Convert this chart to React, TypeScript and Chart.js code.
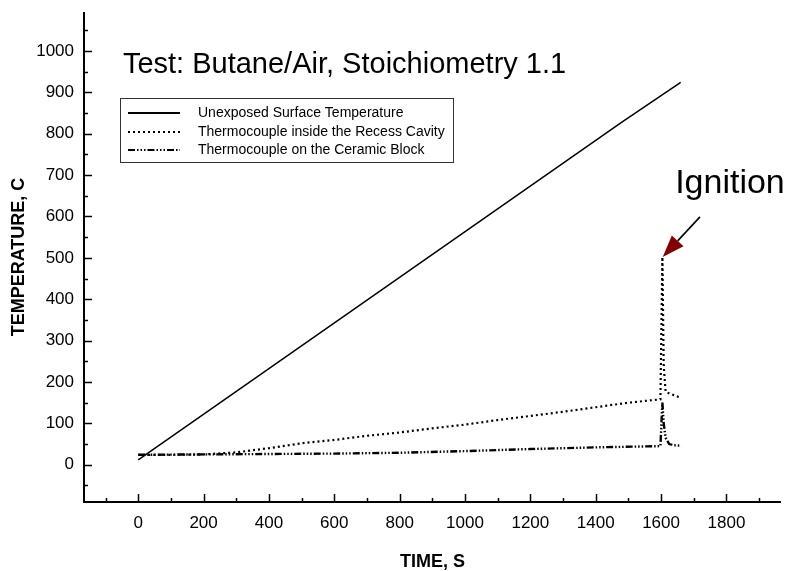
import React, { useEffect, useRef } from "react";
import { Chart, registerables } from "chart.js";

Chart.register(...registerables);

// ---- data ----
const surfaceTime = [0, 1480, 1660];
const surfaceTemp = [12, 828, 924];

const recessTime = [0, 100, 200, 300, 400, 500, 600, 700, 800, 900, 1000, 1100, 1200, 1300, 1400, 1500, 1598, 1604, 1608, 1614, 1640, 1662];
const recessTemp = [24, 24, 25, 30, 40, 52, 60, 70, 78, 88, 97, 108, 118, 128, 139, 150, 158, 502, 240, 176, 168, 161];

const ceramicTime = [0, 200, 400, 600, 800, 1000, 1200, 1400, 1598, 1604, 1608, 1614, 1625, 1640, 1662];
const ceramicTemp = [24, 25, 26, 27, 29, 33, 38, 42, 45, 150, 100, 65, 50, 47, 46];

const seriesLabels = [
  "Unexposed Surface Temperature",
  "Thermocouple inside the Recess Cavity",
  "Thermocouple on the Ceramic Block",
];

const xMajorTicks = [0, 200, 400, 600, 800, 1000, 1200, 1400, 1600, 1800];
const xMinorTicks = [-100, 100, 300, 500, 700, 900, 1100, 1300, 1500, 1700, 1900];
const yMajorTicks = [0, 100, 200, 300, 400, 500, 600, 700, 800, 900, 1000];
const yMinorTicks = [-50, 50, 150, 250, 350, 450, 550, 650, 750, 850, 950, 1050];

const chartTitle = "Test: Butane/Air, Stoichiometry 1.1";
const titleAnchor = { x: -47, y: 946 };
const annotationText = "Ignition";
const annotationAnchor = { x: 1643, y: 656 };
const ignitionTip = { x: 1605, y: 502 };
const arrowTail = { x: 1719, y: 599 };

const xTitle = "TIME, S";
const yTitle = "TEMPERATURE, C";

const FONT = "'Liberation Sans', Arial, Helvetica, sans-serif";

const dashes = [[], [2, 3], [7, 2, 1.5, 2, 1.5, 2, 1.5, 2]];

function pts(xs: number[], ys: number[]) {
  return xs.map((x, i) => ({ x, y: ys[i] }));
}

const decorPlugin = {
  id: "decor",
  afterDraw(chart: any) {
    const ctx = chart.ctx as CanvasRenderingContext2D;
    const { left, right, top, bottom } = chart.chartArea;
    const xs = chart.scales.x;
    const ys = chart.scales.y;
    ctx.save();
    // axes
    ctx.strokeStyle = "#000";
    ctx.lineWidth = 2;
    ctx.beginPath();
    ctx.moveTo(left, top);
    ctx.lineTo(left, bottom);
    ctx.lineTo(right, bottom);
    ctx.stroke();
    // ticks
    ctx.lineWidth = 1.5;
    ctx.beginPath();
    yMajorTicks.forEach((v) => {
      const p = Math.round(ys.getPixelForValue(v)) + 0.5;
      ctx.moveTo(left, p);
      ctx.lineTo(left + 8, p);
    });
    yMinorTicks.forEach((v) => {
      const p = Math.round(ys.getPixelForValue(v)) + 0.5;
      ctx.moveTo(left, p);
      ctx.lineTo(left + 4, p);
    });
    xMajorTicks.forEach((v) => {
      const p = Math.round(xs.getPixelForValue(v)) + 0.5;
      ctx.moveTo(p, bottom);
      ctx.lineTo(p, bottom - 8);
    });
    xMinorTicks.forEach((v) => {
      const p = Math.round(xs.getPixelForValue(v)) + 0.5;
      ctx.moveTo(p, bottom);
      ctx.lineTo(p, bottom - 4);
    });
    ctx.stroke();

    // title
    ctx.fillStyle = "#000";
    ctx.font = `29px ${FONT}`;
    ctx.textAlign = "left";
    ctx.textBaseline = "alphabetic";
    ctx.fillText(chartTitle, xs.getPixelForValue(titleAnchor.x), ys.getPixelForValue(titleAnchor.y));

    // legend box
    const bx = left + 36;
    const by = top + 86;
    const bw = 333;
    const bh = 64;
    ctx.strokeStyle = "#333";
    ctx.lineWidth = 1;
    ctx.strokeRect(bx + 0.5, by + 0.5, bw, bh);
    ctx.font = `14px ${FONT}`;
    ctx.textBaseline = "middle";
    const rows = [by + 15, by + 34, by + 52];
    seriesLabels.forEach((lab, i) => {
      ctx.strokeStyle = "#000";
      ctx.lineWidth = i === 0 ? 2 : 1.8;
      ctx.setLineDash(dashes[i]);
      ctx.beginPath();
      ctx.moveTo(bx + 8, rows[i]);
      ctx.lineTo(bx + 60, rows[i]);
      ctx.stroke();
      ctx.setLineDash([]);
      ctx.fillText(lab, bx + 78, rows[i]);
    });

    // annotation
    ctx.font = `34px ${FONT}`;
    ctx.textBaseline = "alphabetic";
    ctx.fillText(annotationText, xs.getPixelForValue(annotationAnchor.x), ys.getPixelForValue(annotationAnchor.y));
    const tx = xs.getPixelForValue(arrowTail.x);
    const ty = ys.getPixelForValue(arrowTail.y);
    const px = xs.getPixelForValue(ignitionTip.x);
    const py = ys.getPixelForValue(ignitionTip.y);
    const dx = px - tx;
    const dy = py - ty;
    const len = Math.hypot(dx, dy);
    const ux = dx / len;
    const uy = dy / len;
    const hl = 22;
    const hw = 8;
    const bxp = px - ux * hl;
    const byp = py - uy * hl;
    ctx.strokeStyle = "#000";
    ctx.lineWidth = 1.6;
    ctx.beginPath();
    ctx.moveTo(tx, ty);
    ctx.lineTo(bxp, byp);
    ctx.stroke();
    ctx.fillStyle = "#800000";
    ctx.beginPath();
    ctx.moveTo(px, py);
    ctx.lineTo(bxp - uy * hw, byp + ux * hw);
    ctx.lineTo(bxp + uy * hw, byp - ux * hw);
    ctx.closePath();
    ctx.fill();
    ctx.restore();
  },
};

export default function App() {
  const ref = useRef<HTMLCanvasElement | null>(null);
  useEffect(() => {
    if (!ref.current) return;
    const chart = new Chart(ref.current, {
      type: "line",
      data: {
        datasets: [
          {
            label: seriesLabels[0],
            data: pts(surfaceTime, surfaceTemp),
            borderColor: "#000",
            borderWidth: 1.5,
            pointRadius: 0,
            tension: 0,
          },
          {
            label: seriesLabels[1],
            data: pts(recessTime, recessTemp),
            borderColor: "#000",
            borderWidth: 2.2,
            borderDash: dashes[1],
            pointRadius: 0,
            tension: 0,
          },
          {
            label: seriesLabels[2],
            data: pts(ceramicTime, ceramicTemp),
            borderColor: "#000",
            borderWidth: 2.4,
            borderDash: dashes[2],
            pointRadius: 0,
            tension: 0,
          },
        ],
      },
      options: {
        responsive: false,
        animation: false,
        devicePixelRatio: 1,
        layout: { padding: { top: 12, right: 8, left: 0, bottom: 0 } },
        plugins: { legend: { display: false }, tooltip: { enabled: false } },
        scales: {
          x: {
            type: "linear",
            min: -166,
            max: 1967,
            border: { display: false },
            grid: { display: false, drawTicks: false },
            afterBuildTicks: (s: any) => {
              s.ticks = xMajorTicks.map((v) => ({ value: v }));
            },
            afterFit: (s: any) => {
              s.height = 69;
              s.paddingLeft = 0;
              s.paddingRight = 0;
            },
            ticks: {
              color: "#000",
              font: { family: FONT, size: 17 },
              padding: 11,
              maxRotation: 0,
              autoSkip: false,
              callback: (v: any) => String(v),
            },
            title: {
              display: true,
              text: xTitle,
              color: "#000",
              font: { family: FONT, size: 18, weight: "bold", lineHeight: 1 },
              padding: { top: -1, bottom: 0 },
            },
          },
          y: {
            type: "linear",
            min: -90,
            max: 1094,
            border: { display: false },
            grid: { display: false, drawTicks: false },
            afterBuildTicks: (s: any) => {
              s.ticks = yMajorTicks.map((v) => ({ value: v }));
            },
            afterFit: (s: any) => {
              s.width = 84;
              s.paddingTop = 0;
              s.paddingBottom = 0;
            },
            ticks: {
              color: "#000",
              font: { family: FONT, size: 17 },
              padding: 10,
              autoSkip: false,
              callback: (v: any) => String(v),
            },
            title: {
              display: true,
              text: yTitle,
              color: "#000",
              font: { family: FONT, size: 18, weight: "bold", lineHeight: 1 },
              padding: { top: 10, bottom: 0 },
            },
          },
        },
      },
      plugins: [decorPlugin],
    });
    return () => chart.destroy();
  }, []);
  return (
    <div style={{ position: "fixed", left: 0, top: 0, width: 789, height: 571, background: "#fff" }}>
      <canvas ref={ref} width={789} height={571} style={{ display: "block", width: 789, height: 571 }} />
    </div>
  );
}
